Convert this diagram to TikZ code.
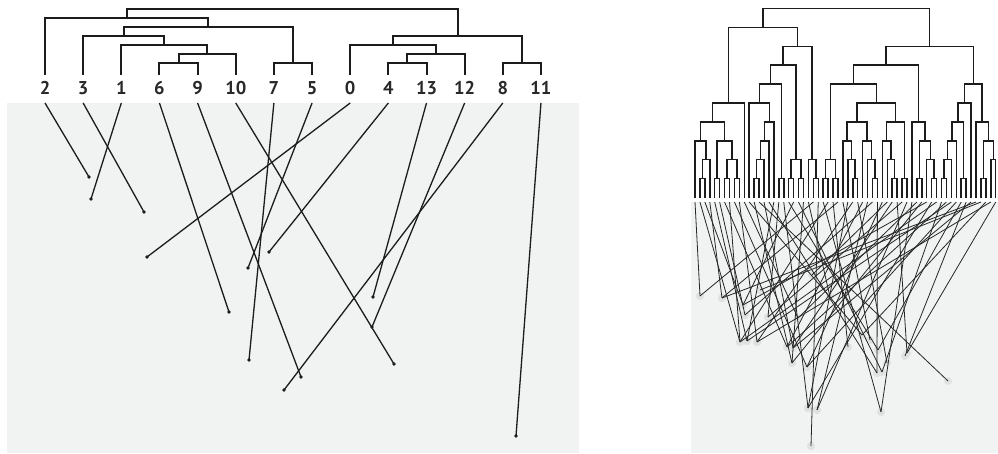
\documentclass[tikz,border=0pt]{standalone}
\usepackage{fontspec}
\newfontfamily\lblfont{PT Sans}
\usetikzlibrary{calc}
\definecolor{panel}{RGB}{241,242,242}
\definecolor{halo}{RGB}{224,226,226}
\definecolor{ink}{RGB}{28,28,28}
\definecolor{labelink}{RGB}{40,40,40}
\tikzset{
  lbl/.style={font=\lblfont\bfseries\fontsize{18.5}{18.5}\selectfont, text=labelink, anchor=base, inner sep=0pt},
  lb/.style={draw=ink, line width=2pt, line join=miter},
  rb/.style={draw=ink, line width=1.5pt, line join=miter},
  link/.style={draw=ink, line width=1.3pt},
  thinlink/.style={draw=black!85, line width=0.8pt},
  dot/.style={circle, fill=ink, inner sep=0pt, minimum size=3.6pt},
  halo/.style={circle, fill=halo, inner sep=0pt, minimum size=8pt},
}
% branch of a dendrogram: joins two children at the given height
\newcommand\dmerge[5]{%
  \path let \p1=($(#3)!0.5!(#4)$), \p2=(0,#5) in coordinate (#2) at (\x1,\y2);
  \draw[#1] (#3) |- (#2) -| (#4);
}
\begin{document}
\begin{tikzpicture}[x=1pt,y=-1pt]
\useasboundingbox (0,0) rectangle (998,454);

% panels
\fill[panel] (7,103) rectangle (579,453);
\fill[panel] (691,202) rectangle (998,453);

% ---- small dendrogram: labels, leaves and their links ----
\foreach \lab/\x/\ex/\ey in {2/45/89/177, 3/83.15/144/212, 1/121.3/91/199,
    6/159.45/229/312, 9/197.6/301/377, 10/235.75/394/364, 7/273.9/249/360,
    5/312.05/248/268, 0/350.2/147/257, 4/388.35/269/252, 13/426.5/373/297,
    12/464.65/372/327, 8/502.8/284/390, 11/540.95/516/436}
{
  \node[lbl] (t\lab) at (\x,95) {\lab};
  \coordinate (d\lab) at (\x,75);
  \coordinate (s\lab) at (\x,103);
  \node[dot] (e\lab) at (\ex,\ey) {};
  \draw[link] (s\lab) -- (e\lab.center);
}

\dmerge{lb}{a69}{d6}{d9}{63}
\dmerge{lb}{a6910}{a69}{d10}{54}
\dmerge{lb}{a1x}{d1}{a6910}{45}
\dmerge{lb}{a3x}{d3}{a1x}{36}
\dmerge{lb}{a75}{d7}{d5}{63}
\dmerge{lb}{a3x75}{a3x}{a75}{27}
\dmerge{lb}{aL}{d2}{a3x75}{18}
\dmerge{lb}{a413}{d4}{d13}{63}
\dmerge{lb}{a41312}{a413}{d12}{54}
\dmerge{lb}{a0x}{d0}{a41312}{45}
\dmerge{lb}{a811}{d8}{d11}{63}
\dmerge{lb}{aR}{a0x}{a811}{36}
\dmerge{lb}{aroot}{aL}{aR}{9}

% ---- large dendrogram ----
\foreach \k in {0,...,61}{
  \coordinate (r\k) at ({695+4.93*\k},198);
  \coordinate (q\k) at ({695+4.93*\k},202);
}
\foreach \k/\ex/\ey in {0/700/296, 1/740/342, 2/743/305, 3/722/298, 4/747/341,
    5/745/315, 6/787/347, 7/740/342, 8/807/367, 9/757/342, 10/798/318,
    11/862/335, 12/792/363, 13/948/381, 14/793/348, 15/877/373, 16/747/341,
    17/768/317, 18/808/408, 19/878/350, 20/743/305, 21/882/372, 22/792/363,
    23/830/297, 24/700/296, 25/811/446, 26/881/412, 27/740/342, 28/848/347,
    29/722/298, 30/870/340, 31/808/408, 32/757/342, 33/887/363, 34/787/347,
    35/817/410, 36/745/315, 37/877/373, 38/807/367, 39/812/275, 40/793/348,
    41/907/353, 42/768/317, 43/817/410, 44/881/412, 45/798/318, 46/792/363,
    47/743/305, 48/808/408, 49/740/342, 50/882/372, 51/787/347, 52/747/341,
    53/807/367, 54/878/350, 55/905/356, 56/793/348, 57/722/298, 58/760/290,
    59/862/335, 60/757/342, 61/907/353}
{
  \node[halo] (p\k) at (\ex,\ey) {};
}
\foreach \k in {0,...,61}{
  \draw[thinlink] (q\k) -- (p\k.center);
}

\dmerge{rb}{n12}{r1}{r2}{178.6}
\dmerge{rb}{n123}{n12}{r3}{159.7}
\dmerge{rb}{nA1}{r0}{n123}{140.8}
\dmerge{rb}{n45}{r4}{r5}{178.6}
\dmerge{rb}{n67}{r6}{r7}{178.6}
\dmerge{rb}{n89}{r8}{r9}{178.6}
\dmerge{rb}{n6789}{n67}{n89}{159.7}
\dmerge{rb}{nA2}{n45}{n6789}{140.8}
\dmerge{rb}{nA3}{nA1}{nA2}{121.9}
\dmerge{rb}{nA}{nA3}{r10}{103}
\dmerge{rb}{n1213}{r12}{r13}{178.6}
\dmerge{rb}{nb2}{n1213}{r14}{159.7}
\dmerge{rb}{nb3}{nb2}{r15}{140.8}
\dmerge{rb}{nb4}{nb3}{r16}{121.9}
\dmerge{rb}{nb5}{r11}{nb4}{103}
\dmerge{rb}{n1718}{r17}{r18}{178.6}
\dmerge{rb}{nb6}{nb5}{n1718}{84.1}
\dmerge{rb}{n1920}{r19}{r20}{178.6}
\dmerge{rb}{n2122}{r21}{r22}{178.6}
\dmerge{rb}{nb19}{n1920}{n2122}{159.7}
\dmerge{rb}{nb7}{nb6}{nb19}{65.2}
\dmerge{rb}{n2425}{r24}{r25}{178.6}
\dmerge{rb}{nb23}{r23}{n2425}{159.7}
\dmerge{rb}{nB}{nb7}{nb23}{46.3}
\dmerge{rb}{nLeft}{nA}{nB}{27.4}
\dmerge{rb}{n2627}{r26}{r27}{178.6}
\dmerge{rb}{n2829}{r28}{r29}{178.6}
\dmerge{rb}{nc2}{n2627}{n2829}{159.7}
\dmerge{rb}{n3233}{r32}{r33}{178.6}
\dmerge{rb}{nc31}{r31}{n3233}{159.7}
\dmerge{rb}{nc30}{r30}{nc31}{140.8}
\dmerge{rb}{n3637}{r36}{r37}{178.6}
\dmerge{rb}{nc35}{r35}{n3637}{159.7}
\dmerge{rb}{nc34}{r34}{nc35}{140.8}
\dmerge{rb}{nc4a}{nc30}{nc34}{121.9}
\dmerge{rb}{n4041}{r40}{r41}{178.6}
\dmerge{rb}{nc39}{r39}{n4041}{159.7}
\dmerge{rb}{nc38}{r38}{nc39}{140.8}
\dmerge{rb}{n4243}{r42}{r43}{178.6}
\dmerge{rb}{nc4b}{nc38}{n4243}{121.9}
\dmerge{rb}{nc5}{nc4a}{nc4b}{103}
\dmerge{rb}{nc6}{nc2}{nc5}{84.1}
\dmerge{rb}{n4546}{r45}{r46}{178.6}
\dmerge{rb}{n4849}{r48}{r49}{178.6}
\dmerge{rb}{nd47}{r47}{n4849}{159.7}
\dmerge{rb}{nd3}{n4546}{nd47}{140.8}
\dmerge{rb}{nd4}{r44}{nd3}{121.9}
\dmerge{rb}{nR1}{nc6}{nd4}{65.2}
\dmerge{rb}{n5051}{r50}{r51}{178.6}
\dmerge{rb}{ne2}{n5051}{r52}{159.7}
\dmerge{rb}{ne3}{ne2}{r53}{140.8}
\dmerge{rb}{n5455}{r54}{r55}{178.6}
\dmerge{rb}{ne4}{ne3}{n5455}{121.9}
\dmerge{rb}{ne5}{ne4}{r56}{103}
\dmerge{rb}{n5859}{r58}{r59}{178.6}
\dmerge{rb}{n6061}{r60}{r61}{159.7}
\dmerge{rb}{nf3}{n5859}{n6061}{140.8}
\dmerge{rb}{nf4}{r57}{nf3}{121.9}
\dmerge{rb}{nR2}{ne5}{nf4}{84.1}
\dmerge{rb}{nRight}{nR1}{nR2}{46.3}
\dmerge{rb}{nRoot}{nLeft}{nRight}{8.5}
\end{tikzpicture}
\end{document}
